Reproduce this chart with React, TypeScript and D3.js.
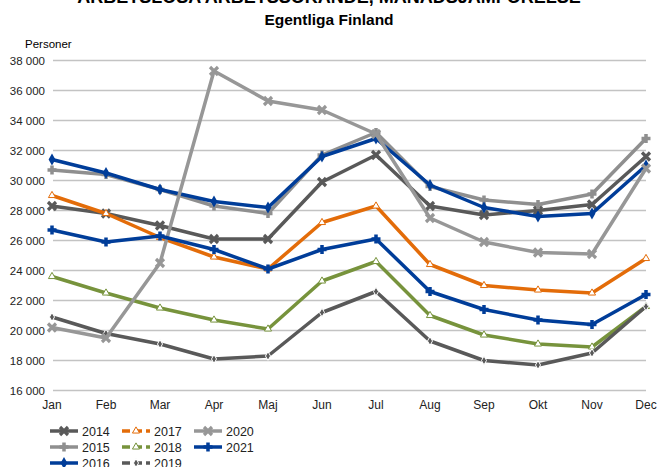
import { useEffect, useRef } from "react";
import * as d3 from "d3";

const months = ["Jan", "Feb", "Mar", "Apr", "Maj", "Jun", "Jul", "Aug", "Sep", "Okt", "Nov", "Dec"];
const years = ["2014", "2015", "2016", "2017", "2018", "2019", "2020", "2021"];

const v2014 = [28300, 27800, 27000, 26100, 26100, 29900, 31700, 28300, 27700, 28000, 28400, 31600];
const v2015 = [30700, 30400, 29400, 28300, 27800, 31700, 33200, 29600, 28700, 28400, 29100, 32800];
const v2016 = [31400, 30500, 29400, 28600, 28200, 31600, 32800, 29700, 28200, 27600, 27800, 31000];
const v2017 = [29000, 27800, 26200, 24900, 24100, 27200, 28300, 24400, 23000, 22700, 22500, 24800];
const v2018 = [23600, 22500, 21500, 20700, 20100, 23300, 24600, 21000, 19700, 19100, 18900, 21600];
const v2019 = [20900, 19800, 19100, 18100, 18300, 21200, 22600, 19300, 18000, 17700, 18500, 21600];
const v2020 = [20200, 19500, 24500, 37300, 35300, 34700, 33100, 27500, 25900, 25200, 25100, 30800];
const v2021 = [26700, 25900, 26300, 25400, 24100, 25400, 26100, 22600, 21400, 20700, 20400, 22400];

const yTicks = [16000, 18000, 20000, 22000, 24000, 26000, 28000, 30000, 32000, 34000, 36000, 38000];

const seriesValues = [v2014, v2015, v2016, v2017, v2018, v2019, v2020, v2021];
const colors = ["#595959", "#8f8f8f", "#003d99", "#e36c09", "#77933c", "#595959", "#979797", "#003d99"];
const markers = ["x", "plus", "diamond", "tri", "tri", "dot", "x", "plus"];

const W = 658;
const H = 467;

const App = () => {
  const svgRef = useRef<SVGSVGElement>(null);

  useEffect(() => {
    const svg = d3.select(svgRef.current);
    svg.selectAll("*").remove();
    const font = "'Liberation Sans', Arial, sans-serif";

    const x = d3.scalePoint<string>().domain(months).range([52, 646]);
    const y = d3.scaleLinear().domain([16000, 38000]).range([390.5, 60.5]);

    // titles
    svg.append("text").attr("x", 329).attr("y", 3).attr("text-anchor", "middle")
      .attr("font-family", font).attr("font-weight", "bold").attr("font-size", 18)
      .text("ARBETSLÖSA ARBETSSÖKANDE, MÅNADSJÄMFÖRELSE");
    svg.append("text").attr("x", 329).attr("y", 25).attr("text-anchor", "middle")
      .attr("font-family", font).attr("font-weight", "bold").attr("font-size", 15.5)
      .text("Egentliga Finland");
    svg.append("text").attr("x", 25).attr("y", 48)
      .attr("font-family", font).attr("font-size", 11.5).text("Personer");

    // grid + y labels
    const fmt = (v: number) => d3.format(",")(v).replace(",", " ");
    yTicks.forEach((t) => {
      svg.append("line").attr("x1", 53).attr("x2", 646).attr("y1", y(t)).attr("y2", y(t))
        .attr("stroke", "#c3c3c3").attr("stroke-width", 1.5);
      svg.append("text").attr("x", 45).attr("y", y(t) + 4).attr("text-anchor", "end")
        .attr("font-family", font).attr("font-size", 11.5).attr("fill", "#222").text(fmt(t));
    });

    months.forEach((m) => {
      svg.append("text").attr("x", x(m)!).attr("y", 409).attr("text-anchor", "middle")
        .attr("font-family", font).attr("font-size", 12).attr("fill", "#222").text(m);
    });

    const drawMarker = (g: any, kind: string, cx: number, cy: number, color: string) => {
      if (kind === "x") {
        const s = 4;
        g.append("path").attr("d", `M${cx - s},${cy - s}L${cx + s},${cy + s}M${cx - s},${cy + s}L${cx + s},${cy - s}`)
          .attr("stroke", color).attr("stroke-width", 3.2);
      } else if (kind === "plus") {
        const s = 4.5;
        g.append("path").attr("d", `M${cx - s},${cy}L${cx + s},${cy}M${cx},${cy - s}L${cx},${cy + s}`)
          .attr("stroke", color).attr("stroke-width", 3.5);
      } else if (kind === "diamond") {
        g.append("path").attr("d", d3.symbol().type(d3.symbolDiamond).size(40)()!)
          .attr("transform", `translate(${cx},${cy})`).attr("fill", color);
      } else if (kind === "tri") {
        g.append("path").attr("d", d3.symbol().type(d3.symbolTriangle).size(22)()!)
          .attr("transform", `translate(${cx},${cy})`).attr("fill", "#fff")
          .attr("stroke", color).attr("stroke-width", 1);
      } else if (kind === "dot") {
        g.append("path").attr("d", d3.symbol().type(d3.symbolDiamond).size(22)()!)
          .attr("transform", `translate(${cx},${cy})`).attr("fill", color)
          .attr("stroke", "#fff").attr("stroke-width", 1);
      }
    };

    const line = d3.line<number>().x((_, i) => x(months[i])!).y((d) => y(d));

    seriesValues.forEach((vals, si) => {
      const g = svg.append("g");
      g.append("path").attr("d", line(vals)).attr("fill", "none")
        .attr("stroke", colors[si]).attr("stroke-width", 3.5).attr("stroke-linejoin", "round");
      vals.forEach((v, i) => drawMarker(g, markers[si], x(months[i])!, y(v), colors[si]));
    });

    // legend
    const legendCols = [50, 122, 194];
    const legendRows = [431, 447, 463];
    years.forEach((yr, i) => {
      const col = Math.floor(i / 3);
      const row = i % 3;
      const lx = legendCols[col];
      const ly = legendRows[row];
      const g = svg.append("g");
      const dashed = markers[i] === "tri" || markers[i] === "dot";
      g.append("line").attr("x1", lx).attr("x2", lx + 28).attr("y1", ly).attr("y2", ly)
        .attr("stroke", colors[i]).attr("stroke-width", 3.5)
        .attr("stroke-dasharray", dashed ? "8,4" : null);
      drawMarker(g, markers[i], lx + 14, ly, colors[i]);
      g.append("text").attr("x", lx + 32).attr("y", ly + 4.5)
        .attr("font-family", font).attr("font-size", 12.5).attr("fill", "#222").text(yr);
    });
  }, []);

  return (
    <svg ref={svgRef} width={W} height={H}
      style={{ position: "absolute", left: 0, top: 0, background: "#fff" }} />
  );
};

export default App;
